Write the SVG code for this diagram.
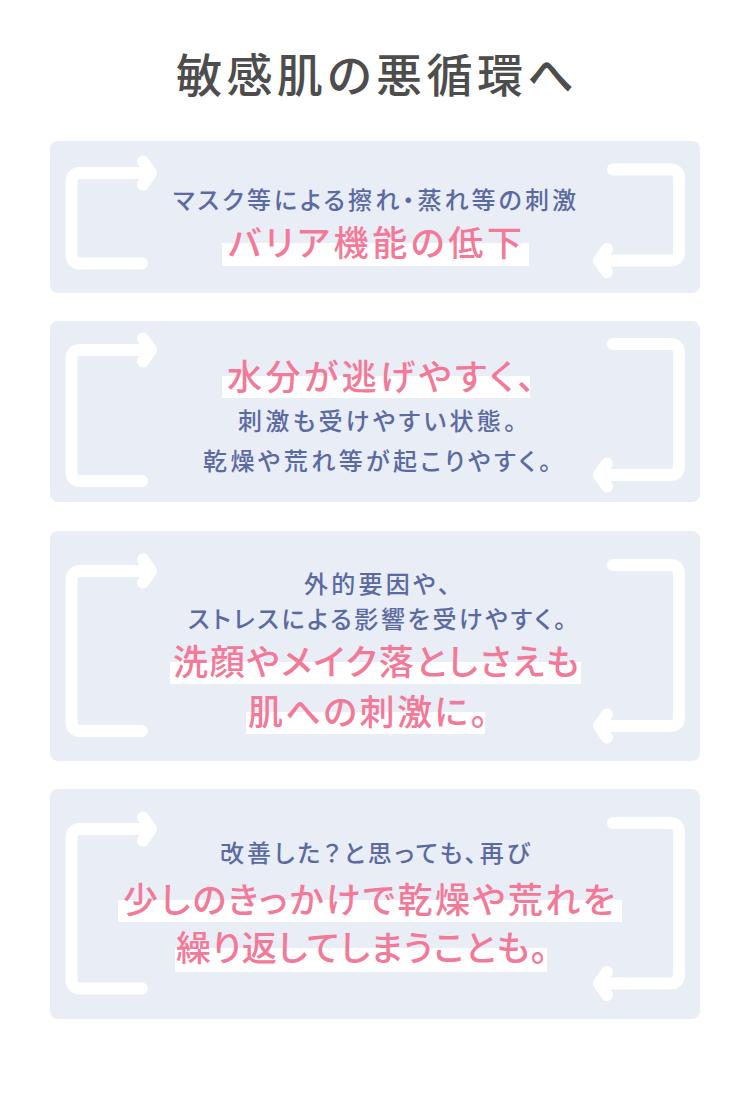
<svg xmlns="http://www.w3.org/2000/svg" width="750" height="1099" viewBox="0 0 750 1099">
<style>
text{font-family:"Noto Sans CJK JP","Noto Sans",sans-serif;font-feature-settings:"palt";font-weight:500}
.title{fill:#4d4d4d;font-size:46px}
.blue{fill:#5b6aa0;font-size:24px}
.pink{fill:#f27a98;font-size:35px}
.box{fill:#e9edf6}
.hl{fill:#ffffff}
.arr{fill:none;stroke:#ffffff;stroke-width:12;stroke-linecap:round;stroke-linejoin:round}
</style>
<rect x="0" y="0" width="750" height="1099" fill="#ffffff"/>
<text id="title" class="title" x="176" y="92" textLength="398" lengthAdjust="spacing">敏感肌の悪循環へ</text>

<g id="node1">
<rect class="box" x="50" y="141" width="650" height="152" rx="8"/>
<rect class="hl" x="222" y="243" width="307" height="23"/>
<text class="blue" x="173" y="209" textLength="403" lengthAdjust="spacing">マスク等による擦れ・蒸れ等の刺激</text>
<text class="pink" x="228" y="256" textLength="294" lengthAdjust="spacing">バリア機能の低下</text>
</g>

<g id="node2">
<rect class="box" x="50" y="321" width="650" height="181" rx="8"/>
<rect class="hl" x="222" y="376" width="308" height="22"/>
<text class="pink" x="227" y="390" textLength="308" lengthAdjust="spacing">水分が逃げやすく、</text>
<text class="blue" x="238" y="430" textLength="278" lengthAdjust="spacing">刺激も受けやすい状態。</text>
<text class="blue" x="203" y="470" textLength="348" lengthAdjust="spacing">乾燥や荒れ等が起こりやすく。</text>
</g>

<g id="node3">
<rect class="box" x="50" y="531" width="650" height="230" rx="8"/>
<rect class="hl" x="170" y="662" width="411" height="22"/>
<rect class="hl" x="246" y="712" width="239" height="22"/>
<text class="blue" x="304" y="593" textLength="146" lengthAdjust="spacing">外的要因や、</text>
<text class="blue" x="188" y="628" textLength="378" lengthAdjust="spacing">ストレスによる影響を受けやすく。</text>
<text class="pink" x="173" y="674.5" textLength="406" lengthAdjust="spacing">洗顔やメイク落としさえも</text>
<text class="pink" x="248" y="724.5" textLength="240" lengthAdjust="spacing">肌への刺激に。</text>
</g>

<g id="node4">
<rect class="box" x="50" y="789" width="650" height="230" rx="8"/>
<rect class="hl" x="118" y="900" width="504" height="22"/>
<rect class="hl" x="175" y="948" width="372" height="24"/>
<text class="blue" x="220" y="862" textLength="310" lengthAdjust="spacing">改善した？と思っても、再び</text>
<text class="pink" x="123" y="912.5" textLength="492" lengthAdjust="spacing">少しのきっかけで乾燥や荒れを</text>
<text class="pink" x="176" y="961" textLength="372" lengthAdjust="spacing">繰り返してしまうことも。</text>
</g>

<g id="connectors" class="arr">
<path d="M142 263.5H80.5Q71.5 263.5 71.5 254.5V182Q71.5 173 80.5 173H151M143 161.5L151 173L143 184.5"/>
<path d="M613 169.5H670Q679 169.5 679 178.5V251.5Q679 260.5 670 260.5H599M607 249L599 260.5L607 272"/>
<path d="M142 481H80.5Q71.5 481 71.5 472V359Q71.5 350 80.5 350H151M143 338.5L151 350L143 361.5"/>
<path d="M613 344H670Q679 344 679 353V466Q679 475 670 475H599M607 463.5L599 475L607 486.5"/>
<path d="M142 731H80.5Q71.5 731 71.5 722V580Q71.5 571 80.5 571H151M143 559.5L151 571L143 582.5"/>
<path d="M613 565H670Q679 565 679 574V717Q679 726 670 726H599M607 714.5L599 726L607 737.5"/>
<path d="M142 988.5H80.5Q71.5 988.5 71.5 979.5V838Q71.5 829 80.5 829H151M143 817.5L151 829L143 840.5"/>
<path d="M613 823H670Q679 823 679 832V974.5Q679 983.5 670 983.5H599M607 972L599 983.5L607 995"/>
</g>
</svg>
